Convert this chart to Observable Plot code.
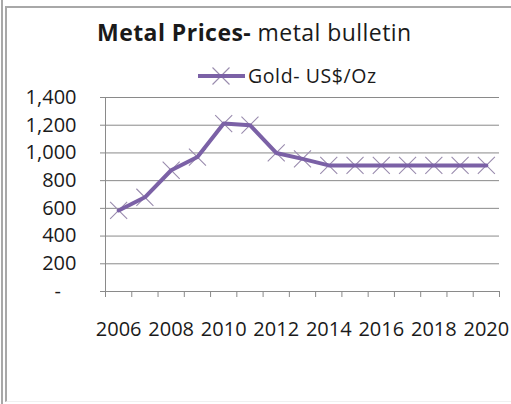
<!DOCTYPE html>
<html>
<head>
<meta charset="utf-8">
<script src="https://cdn.jsdelivr.net/npm/d3@7"></script>
<script src="https://cdn.jsdelivr.net/npm/@observablehq/plot@0.6"></script>
<style>
  html, body { margin: 0; padding: 0; background: #fff; }
  #wrap { position: relative; width: 511px; height: 404px; overflow: hidden; font-family: "Open Sans", sans-serif; color: #1a1a1a; }
  #wrap svg.plot { position: absolute; left: 0; top: 0; }
  .frame1 { position: absolute; left: 1px; top: 0; width: 2px; height: 404px; background: #a8a8a8; }
  .frame2 { position: absolute; left: 5px; top: 6px; width: 504px; height: 393px; border-left: 2px solid #a8a8a8; border-top: 2px solid #a8a8a8; border-right: 1px solid #ececec; border-bottom: 1px solid #f0f0f0; }
  #title { position: absolute; left: 97px; top: 21px; font-size: 23px; letter-spacing: 0.45px; white-space: nowrap; line-height: 1; }
  #title b { font-weight: 700; }
  #legend { position: absolute; left: 196px; top: 62px; font-size: 19.5px; letter-spacing: 0.6px; white-space: nowrap; display: flex; align-items: center; }
  #legend svg { display: block; }
</style>
</head>
<body>
<div id="wrap">
  <div class="frame1"></div>
  <div class="frame2"></div>
  <div id="title"><b>Metal Prices-</b> metal bulletin</div>
  <div id="legend"></div>
</div>
<script>
const years = [2006, 2007, 2008, 2009, 2010, 2011, 2012, 2013, 2014, 2015, 2016, 2017, 2018, 2019, 2020];
const gold = [585, 680, 875, 970, 1212, 1200, 1000, 957, 910, 910, 910, 910, 910, 910, 910];
const seriesName = "Gold- US$/Oz";
const yTicks = [0, 200, 400, 600, 800, 1000, 1200, 1400];
const xLabelYears = [2006, 2008, 2010, 2012, 2014, 2016, 2018, 2020];

const data = years.map((y, i) => ({year: y, value: gold[i]}));
const boundaries = [...years.map(y => y - 0.5), years[years.length - 1] + 0.5];
const xDomain = [boundaries[0], boundaries[boundaries.length - 1]];

const lineColor = "#7b61a6";
const markColor = "#9a8cae";
const gridColor = "#8a8a8a";

const chart = Plot.plot({
  width: 511,
  height: 404,
  marginLeft: 105,
  marginRight: 12,
  marginTop: 97,
  marginBottom: 113,
  style: {fontFamily: "Open Sans, sans-serif", color: "#1a1a1a", background: "transparent", overflow: "visible"},
  x: {type: "linear", domain: xDomain},
  y: {domain: [0, 1400]},
  marks: [
    Plot.gridY(yTicks, {stroke: gridColor, strokeOpacity: 1, strokeWidth: 1}),
    Plot.ruleX([xDomain[0]], {stroke: gridColor, strokeWidth: 1}),
    Plot.ruleY([0], {stroke: gridColor, strokeWidth: 1}),
    Plot.axisY(yTicks, {
      tickSize: 5, tickPadding: 24, stroke: gridColor, fontSize: 20,
      tickFormat: d => d === 0 ? "-\u00a0\u00a0\u00a0" : d3.format(",")(d),
      label: null
    }),
    Plot.axisX(boundaries, {tickSize: 6, stroke: gridColor, tickFormat: () => "", label: null}),
    Plot.axisX(xLabelYears, {tickSize: 0, tickPadding: 30, fontSize: 20, tickFormat: d => String(d), label: null}),
    Plot.dot(data, {x: "year", y: "value", symbol: "times", r: 7.8, stroke: markColor, strokeWidth: 1.1}),
    Plot.line(data, {x: "year", y: "value", stroke: lineColor, strokeWidth: 4, curve: "linear", strokeLinejoin: "round", strokeLinecap: "round"})
  ]
});
chart.classList.add("plot");
document.getElementById("wrap").insertBefore(chart, document.getElementById("title"));

// legend swatch
const lg = document.getElementById("legend");
const sw = d3.create("svg").attr("width", 52).attr("height", 22);
sw.append("path").attr("d", d3.symbol(d3.symbolTimes, 190)()).attr("transform", "translate(25,11)")
  .attr("stroke", markColor).attr("stroke-width", 1.1).attr("fill", "none");
sw.append("line").attr("x1", 2).attr("x2", 49).attr("y1", 11).attr("y2", 11)
  .attr("stroke", lineColor).attr("stroke-width", 4);
lg.appendChild(sw.node());
const lt = document.createElement("span");
lt.textContent = seriesName;
lg.appendChild(lt);
</script>
</body>
</html>
